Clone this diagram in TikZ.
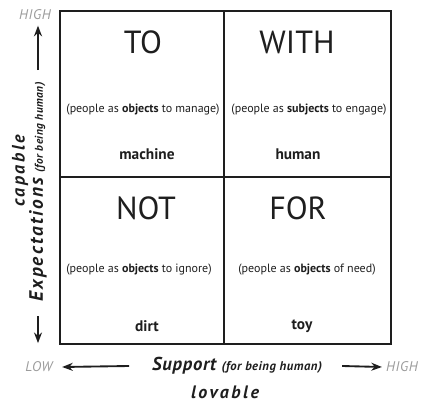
\documentclass[tikz,border=0pt]{standalone}
\usepackage{fontspec}
\setmainfont{PT Sans}
\newfontfamily\spacedfont[LetterSpace=14]{PT Sans}
\newfontfamily\axisfont[LetterSpace=4]{PT Sans}
\newfontfamily\widefont[LetterSpace=11]{PT Sans}
\usetikzlibrary{positioning, arrows.meta}
\definecolor{inkgray}{HTML}{1E1E1E}
\definecolor{lowgray}{HTML}{9C9C9C}
\tikzset{
	quadtitle/.style={font=\fontsize{24}{26}\selectfont, text=inkgray, inner sep=0pt}
}
\tikzset{
	quadnote/.style={font=\fontsize{9}{11}\selectfont, text=inkgray, inner sep=0pt}
}
\tikzset{
	quadword/.style={font=\fontsize{11.5}{13}\selectfont\bfseries, text=inkgray, inner sep=0pt}
}
\tikzset{
	endtext/.style={font=\fontsize{10.5}{12}\selectfont\axisfont\itshape, text=lowgray, inner sep=0pt}
}
\tikzset{
	axistext/.style={font=\fontsize{14}{16}\selectfont\axisfont\bfseries\itshape, text=inkgray, inner sep=0pt}
}
\tikzset{
	spacedtext/.style={font=\fontsize{13.5}{15}\selectfont\spacedfont\bfseries\itshape, text=inkgray, inner sep=0pt}
}
\tikzset{
	axisarrow/.style={line width=1.4pt, draw=inkgray, -{Stealth[length=8pt, width=6pt]}}
}
\newcommand{\ob}[1]{\textbf{#1}}
\newcommand{\sidenote}[2]{{\fontsize{#1}{11}\selectfont\axisfont #2}}

\begin{document}
\begin{tikzpicture}[x=0.75pt, y=-0.75pt]
      \useasboundingbox (0,0) rectangle (422,403);

      % the four quadrants
      \draw[line width=1pt, draw=inkgray] (60,11) rectangle (391,344);
      \draw[line width=1.5pt, draw=inkgray] (224,11) -- (224,344);
      \draw[line width=1pt, draw=inkgray] (60,177) -- (391,177);

      \node[quadtitle] (to) at (143,42) {TO};
      \node[quadtitle] (with) at (297,42) {WITH};
      \node[quadtitle] (not) at (146,208) {NOT};
      \node[quadtitle] (for) at (298,208) {FOR};

      \node[quadnote] (tonote) at (143,110) {(people as \ob{objects} to manage)};
      \node[quadnote] (withnote) at (309,110) {(people as \ob{subjects} to engage)};
      \node[quadnote] (notnote) at (139,270) {(people as \ob{objects} to ignore)};
      \node[quadnote] (fornote) at (307,270) {(people as \ob{objects} of need)};

      \node[quadword] (machine) at (147,154) {machine};
      \node[quadword] (human) at (298,154) {human};
      \node[quadword] (dirt) at (147,326) {dirt};
      \node[quadword] (toy) at (302,326) {toy};

      % vertical axis: expectations
      \node[endtext] (vhigh) at (35,15) {HIGH};
      \node[axistext, rotate=90] (expect) at (38,192) {{\fontsize{14.5}{16}\selectfont\widefont Expectations} \sidenote{8.5}{(for being human)}};
      \node[spacedtext, rotate=90] (capable) at (20,171) {capable};
      \draw[axisarrow] ([yshift=9pt]expect.east) -- ([yshift=-4pt]vhigh.south -| expect.east);
      \draw[axisarrow] ([yshift=-11pt]expect.west) -- ([yshift=-31pt]expect.west);

      % horizontal axis: support
      \node[endtext] (hlow) at (39,367) {LOW};
      \node[endtext] (hhigh) at (402,367) {HIGH};
      \node[axistext] (support) at (237,366) {Support \sidenote{9.5}{(for being human)}};
      \node[spacedtext] (lovable) at (225,392) {lovable};
      \draw[axisarrow] ([xshift=-17pt]support.west) -- ([xshift=7pt]hlow.east);
      \draw[axisarrow] ([xshift=15pt]support.east) -- ([xshift=-3pt]hhigh.west);
    \end{tikzpicture}
\end{document}
